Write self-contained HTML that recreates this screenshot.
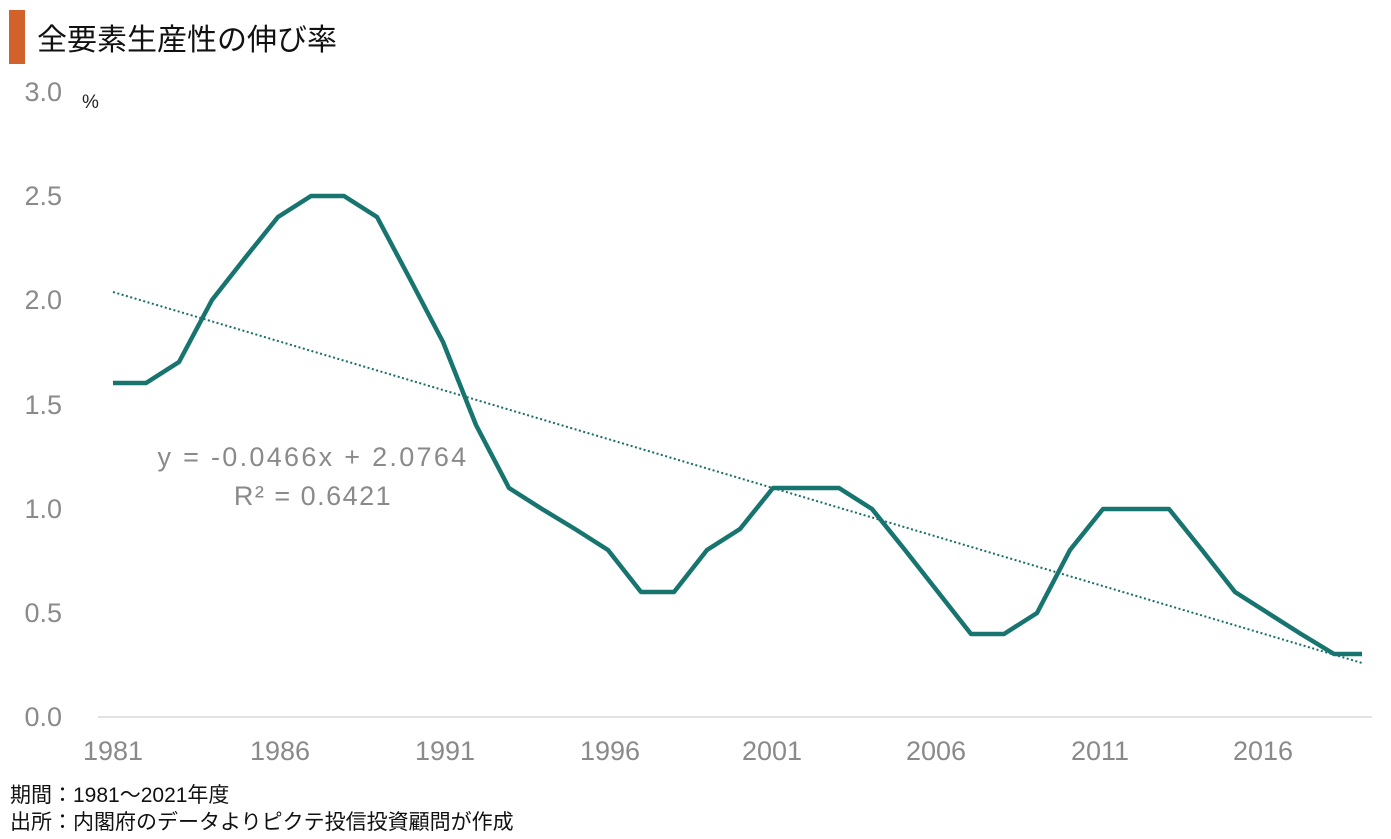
<!DOCTYPE html>
<html><head><meta charset="utf-8"><style>
body{margin:0;background:#fff;width:1391px;height:839px;overflow:hidden;font-family:"Liberation Sans","Noto Sans CJK JP",sans-serif;}
</style></head><body>
<svg width="1391" height="839" xmlns="http://www.w3.org/2000/svg" style="position:absolute;left:0;top:0">
<rect x="9" y="10" width="16" height="54" fill="#d2622b"/>
<text x="37" y="50" font-size="30" font-family="Noto Sans CJK JP, sans-serif" fill="#111">全要素生産性の伸び率</text>
<g font-size="27" fill="#8a8a8a" font-family="Liberation Sans, sans-serif" text-anchor="end">
<text x="62" y="101">3.0</text><text x="62" y="205">2.5</text><text x="62" y="309">2.0</text>
<text x="62" y="414">1.5</text><text x="62" y="518">1.0</text><text x="62" y="622">0.5</text><text x="62" y="726">0.0</text>
</g>
<text x="82" y="108" font-size="19" fill="#222">%</text>
<line x1="98" y1="717" x2="1372" y2="717" stroke="#d9d9d9" stroke-width="1.5"/>
<g font-size="27" fill="#8a8a8a" text-anchor="middle">
<text x="113" y="760">1981</text><text x="280" y="760">1986</text><text x="445" y="760">1991</text>
<text x="610" y="760">1996</text><text x="772" y="760">2001</text><text x="936" y="760">2006</text>
<text x="1100" y="760">2011</text><text x="1263" y="760">2016</text>
</g>
<line x1="113" y1="292" x2="1362" y2="663" stroke="#1a6e6a" stroke-width="2" stroke-dasharray="2,2.5"/>
<polyline fill="none" stroke="#17746f" stroke-width="4.5" stroke-linejoin="round" points="113,383 146,383 179,362 212,300 245,258 278,217 311,196 344,196 377,217 410,279 443,342 476,425 509,488 542,509 575,529 608,550 641,592 674,592 707,550 740,529 773,488 806,488 839,488 872,509 905,550 938,592 971,634 1004,634 1037,613 1070,550 1103,509 1136,509 1169,509 1202,550 1235,592 1268,613 1301,634 1334,654 1362,654"/>
<text x="313" y="466" font-size="27" fill="#8a8a8a" text-anchor="middle" letter-spacing="2.3">y = -0.0466x + 2.0764</text>
<text x="313" y="505" font-size="27" fill="#8a8a8a" text-anchor="middle" letter-spacing="1.5">R² = 0.6421</text>
<text x="10" y="802" font-size="21" fill="#111">期間：1981～2021年度</text>
<text x="10" y="829" font-size="21" fill="#111">出所：内閣府のデータよりピクテ投信投資顧問が作成</text>
</svg>
</body></html>
